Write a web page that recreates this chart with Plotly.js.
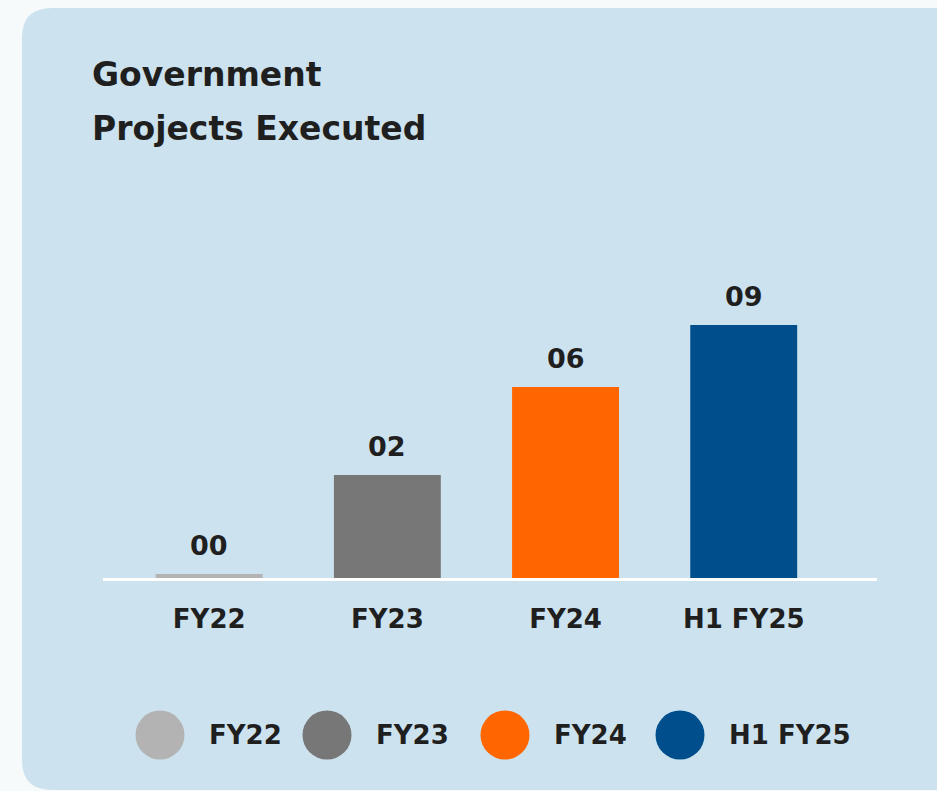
<!DOCTYPE html>
<html>
<head>
<meta charset="utf-8">
<script src="https://cdn.plot.ly/plotly-3.0.1.min.js"></script>
<style>html,body{margin:0;padding:0;background:#f7fafb;}#chart{width:937px;height:791px;}</style>
</head>
<body>
<div id="chart"></div>
<script>
// ---- data ----
const categories = ["FY22", "FY23", "FY24", "H1 FY25"];
const projectsExecuted = [0, 2, 6, 9];            // values printed above the bars
const valueLabels = ["00", "02", "06", "09"];
// bar heights as drawn in the original artwork (not to scale with the values)
const drawnHeights = [0.16, 4.12, 7.64, 10.12];
const barColors = ["#b3b3b3", "#777777", "#ff6600", "#004e8c"];
const titleLines = ["Government", "Projects Executed"];

// ---- layout helpers ----
const W = 937, H = 791;
const M = {l: 103, r: 60, t: 200, b: 213};
const PW = W - M.l - M.r, PH = H - M.t - M.b;
const px = x => (x - M.l) / PW;
const py = y => (H - M.b - y) / PH;
const FONT = "'DejaVu Sans', 'Noto Sans', sans-serif";
const INK = "#1f1f1f";

// rounded panel
const x0 = 22, y0 = 8, x1 = 990, y1 = 790, r = 30;
const panelPath = [
  `M ${px(x0 + r)},${py(y0)}`,
  `L ${px(x1)},${py(y0)}`,
  `L ${px(x1)},${py(y1)}`,
  `L ${px(x0 + r)},${py(y1)}`,
  `Q ${px(x0)},${py(y1)} ${px(x0)},${py(y1 - r)}`,
  `L ${px(x0)},${py(y0 + r)}`,
  `Q ${px(x0)},${py(y0)} ${px(x0 + r)},${py(y0)} Z`
].join(" ");

const trace = {
  type: "bar",
  x: categories,
  y: drawnHeights,
  width: 0.60,
  marker: {color: barColors, line: {width: 0}},
  hoverinfo: "skip",
  showlegend: false
};

const annotations = [];
categories.forEach((c, i) => {
  annotations.push({
    x: c, y: drawnHeights[i], xref: "x", yref: "y",
    text: "<b>" + valueLabels[i] + "</b>",
    showarrow: false, yanchor: "bottom", yshift: 11,
    font: {family: FONT, size: 27, color: INK}
  });
});
titleLines.forEach((t, i) => {
  annotations.push({
    x: px(90), y: py(74 + i * 54), xref: "paper", yref: "paper",
    xanchor: "left", yanchor: "middle",
    text: "<b>" + t + "</b>", showarrow: false,
    font: {family: FONT, size: 33, color: INK}
  });
});

// legend (circles + labels)
const legendCx = [160, 327, 505, 680];
const shapes = [{type: "path", xref: "paper", yref: "paper", path: panelPath,
  fillcolor: "#cce2ee", line: {width: 0}, layer: "below"}];
categories.forEach((c, i) => {
  const cx = legendCx[i], cy = 735, rr = 24.5;
  shapes.push({type: "circle", xref: "paper", yref: "paper",
    x0: px(cx - rr), x1: px(cx + rr), y0: py(cy + rr), y1: py(cy - rr),
    fillcolor: barColors[i], line: {width: 0}});
  annotations.push({
    x: px(cx + 47), y: py(cy), xref: "paper", yref: "paper",
    xanchor: "left", yanchor: "middle", showarrow: false,
    text: "<b>" + c + "</b>", font: {family: FONT, size: 26, color: INK}
  });
});

const layout = {
  width: W, height: H,
  margin: M,
  paper_bgcolor: "#f7fafb",
  plot_bgcolor: "rgba(0,0,0,0)",
  showlegend: false,
  xaxis: {
    type: "category", range: [-0.596, 3.748],
    showgrid: false, zeroline: false,
    showline: true, linecolor: "#ffffff", linewidth: 3,
    ticks: "", ticklabelstandoff: 16,
    tickfont: {family: FONT, size: 26, color: INK, weight: "bold"}
  },
  yaxis: {
    range: [0, PH / 25], visible: false, showgrid: false, zeroline: false
  },
  shapes: shapes,
  annotations: annotations
};

Plotly.newPlot("chart", [trace], layout, {displayModeBar: false, staticPlot: true});
</script>
</body>
</html>
